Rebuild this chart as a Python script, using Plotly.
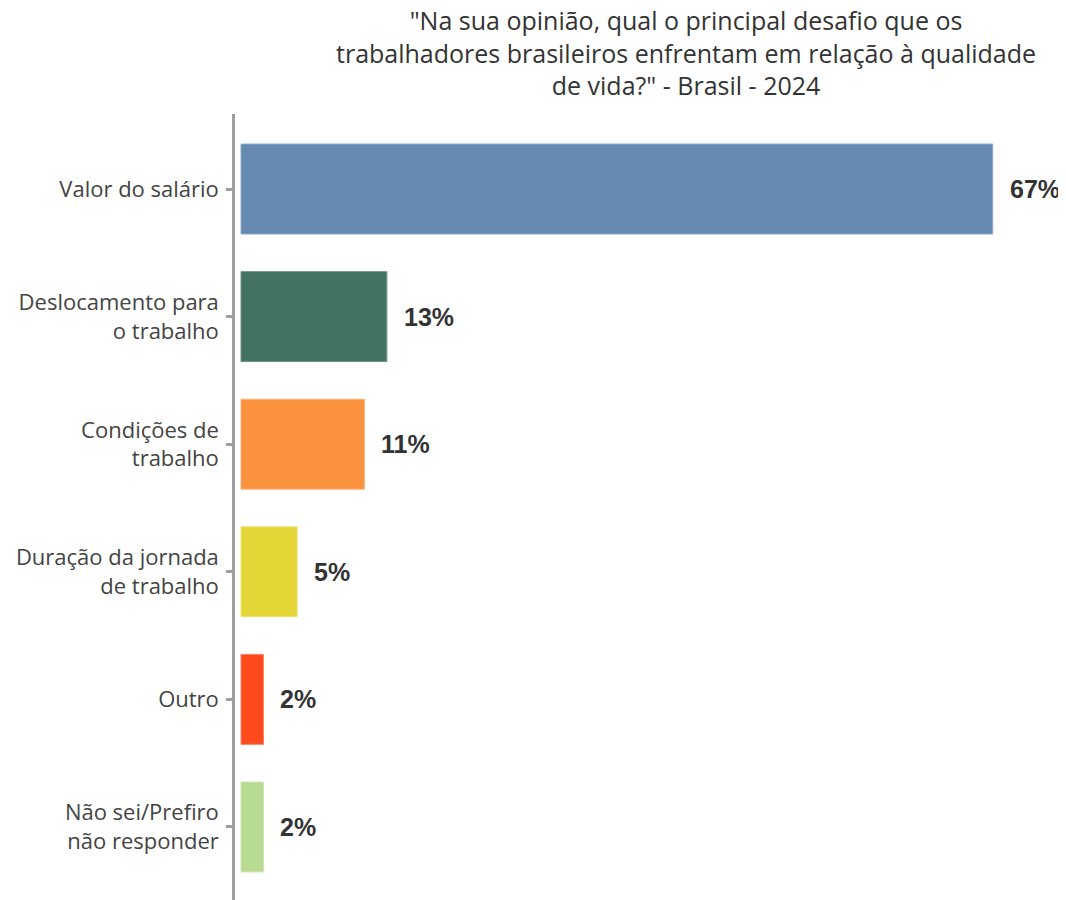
import plotly.graph_objects as go

categories = [
    "Valor do salário",
    "Deslocamento para<br>o trabalho",
    "Condições de<br>trabalho",
    "Duração da jornada<br>de trabalho",
    "Outro",
    "Não sei/Prefiro<br>não responder",
]
values = [67, 13, 11, 5, 2, 2]
value_labels = ["67%", "13%", "11%", "5%", "2%", "2%"]
colors = ["#6589B1", "#437462", "#FA923E", "#E4D636", "#FF4A1E", "#B8DB92"]
line_colors = ["#8FA8C6", "#6E9283", "#FBB27A", "#ECE27A", "#FF8062", "#CDE6B2"]
title_text = ('"Na sua opinião, qual o principal desafio que os<br>'
              'trabalhadores brasileiros enfrentam em relação à qualidade<br>'
              'de vida?" - Brasil - 2024')

fig = go.Figure()
fig.add_trace(go.Bar(
    y=categories,
    x=values,
    orientation="h",
    marker=dict(color=colors, line=dict(color=line_colors, width=1)),
    width=0.705,
    hoverinfo="skip",
))

for c, v, t in zip(categories, values, value_labels):
    fig.add_annotation(
        x=v, y=c, text="<b>" + t + "</b>", showarrow=False,
        xanchor="left", yanchor="middle", xshift=15,
        font=dict(family="Liberation Sans, Arial, sans-serif", size=25, color="#333333"),
    )

fig.add_annotation(
    text=title_text, showarrow=False,
    xref="paper", yref="paper",
    x=(678 - 227) / (1026 - 227), y=(900 - 45) / 794,
    xanchor="center", yanchor="middle", align="center",
    font=dict(family="Open Sans, sans-serif", size=25, color="#333333"),
)

fig.update_layout(
    width=1066, height=900,
    paper_bgcolor="white", plot_bgcolor="white",
    margin=dict(l=227, r=40, t=106, b=0, autoexpand=False),
    showlegend=False,
    xaxis=dict(
        range=[-0.535, 70.68], showgrid=False, zeroline=False,
        showticklabels=False, showline=False, ticks="", automargin=False,
    ),
    yaxis=dict(
        categoryorder="array", categoryarray=categories,
        range=[5.635, -0.588], automargin=False,
        showgrid=False, zeroline=False,
        showline=True, linecolor="#9E9E9E", linewidth=2.5,
        ticks="outside", ticklen=6, tickwidth=2.5, tickcolor="#9E9E9E",
        tickfont=dict(family="Open Sans, sans-serif", size=22, color="#444444"),
        ticklabelstandoff=3,
    ),
)

fig.write_html("out.html")
